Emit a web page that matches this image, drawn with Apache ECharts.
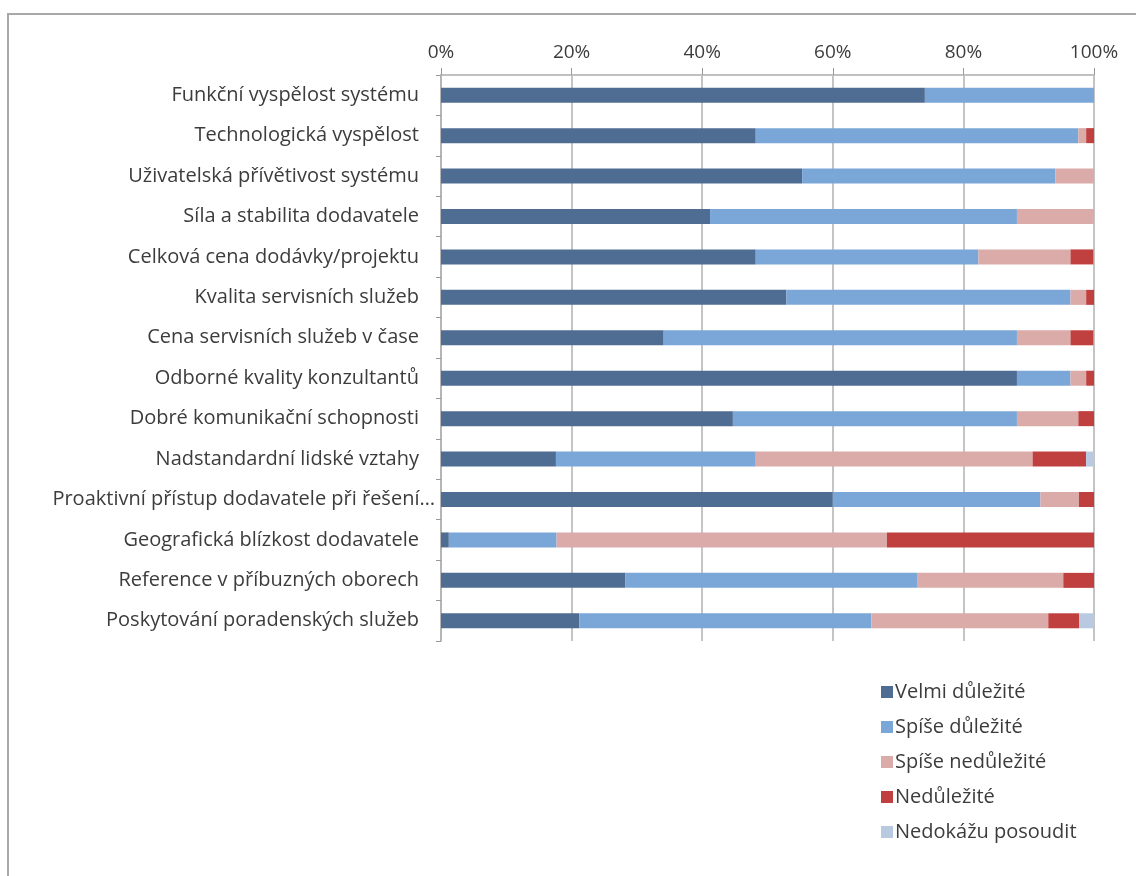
<!DOCTYPE html>
<html><head><meta charset="utf-8">
<script src="https://cdn.jsdelivr.net/npm/echarts@6/dist/echarts.min.js"></script>
<style>html,body{margin:0;padding:0;background:#fff}#c{width:1136px;height:876px}</style>
</head><body><div id="c"></div>
<script>
const categories = [
  "Funkční vyspělost systému",
  "Technologická vyspělost",
  "Uživatelská přívětivost systému",
  "Síla a stabilita dodavatele",
  "Celková cena dodávky/projektu",
  "Kvalita servisních služeb",
  "Cena servisních služeb v čase",
  "Odborné kvality konzultantů",
  "Dobré komunikační schopnosti",
  "Nadstandardní lidské vztahy",
  "Proaktivní přístup dodavatele při řešení…",
  "Geografická blízkost dodavatele",
  "Reference v příbuzných oborech",
  "Poskytování poradenských služeb"
];
const seriesNames = ["Velmi důležité", "Spíše důležité", "Spíše nedůležité", "Nedůležité", "Nedokážu posoudit"];
const velmiDulezite    = [74.1, 48.2, 55.3, 41.2, 48.2, 52.9, 34.1, 88.2, 44.7, 17.6, 60.0, 1.2, 28.2, 21.2];
const spiseDulezite    = [25.9, 49.4, 38.8, 47.0, 34.1, 43.5, 54.1, 8.2, 43.5, 30.6, 31.8, 16.5, 44.7, 44.7];
const spiseNedulezite  = [0, 1.2, 5.9, 11.8, 14.1, 2.4, 8.2, 2.4, 9.4, 42.4, 5.9, 50.6, 22.4, 27.1];
const nedulezite       = [0, 1.2, 0, 0, 3.5, 1.2, 3.5, 1.2, 2.4, 8.2, 2.4, 31.7, 4.7, 4.7];
const nedokazuPosoudit = [0, 0, 0, 0, 0, 0, 0, 0, 0, 1.2, 0, 0, 0, 2.4];
const xTicks = [0, 20, 40, 60, 80, 100];

const colors = ["#4F6D93", "#7BA7D8", "#DAABA9", "#BF403E", "#B8C9E1"];
const values = [velmiDulezite, spiseDulezite, spiseNedulezite, nedulezite, nedokazuPosoudit];
const font = "'Open Sans', Lato, sans-serif";

const chart = echarts.init(document.getElementById('c'), null, {renderer: 'canvas'});
chart.setOption({
  backgroundColor: '#fff',
  animation: false,
  color: colors,
  graphic: [{
    type: 'polyline',
    shape: {points: [[8, 900], [8, 14], [1140, 14]]},
    style: {stroke: '#a8a8a8', lineWidth: 2, fill: null},
    silent: true
  }],
  grid: {left: 441, right: 42, top: 75, height: 566, containLabel: false},
  xAxis: {
    type: 'value', position: 'top', min: xTicks[0], max: xTicks[xTicks.length - 1], interval: 20,
    axisLine: {show: true, lineStyle: {color: '#c0c0c0', width: 2}},
    axisTick: {show: true, inside: false, length: 7, lineStyle: {color: '#999'}},
    splitLine: {show: true, lineStyle: {color: '#b0b0b0', width: 1.5}},
    axisLabel: {formatter: '{value}%', color: '#3c3c3c', fontFamily: font, fontSize: 19, margin: 13}
  },
  yAxis: {
    type: 'category', inverse: true, data: categories,
    axisLine: {show: true, lineStyle: {color: '#b0b0b0', width: 1.5}},
    axisTick: {show: true, length: 5, lineStyle: {color: '#999'}},
    axisLabel: {
      color: '#3c3c3c', fontFamily: font, fontSize: 20, margin: 22,
      formatter: (v, i) => i === 10 ? '{p|' + v + '}' : v,
      rich: {p: {color: '#3c3c3c', fontFamily: font, fontSize: 20, padding: [0, -16, 0, 0]}}
    }
  },
  legend: {
    orient: 'vertical', left: 876, top: 676,
    itemWidth: 12, itemHeight: 12, itemGap: 13, icon: 'rect',
    textStyle: {color: '#3c3c3c', fontFamily: font, fontSize: 20, lineHeight: 22, padding: [0, 0, 0, -3]},
    data: seriesNames
  },
  series: seriesNames.map((n, i) => ({
    name: n, type: 'bar', stack: 'total', barWidth: 15,
    data: values[i],
    itemStyle: {color: colors[i]}
  }))
});
</script>
</body></html>
